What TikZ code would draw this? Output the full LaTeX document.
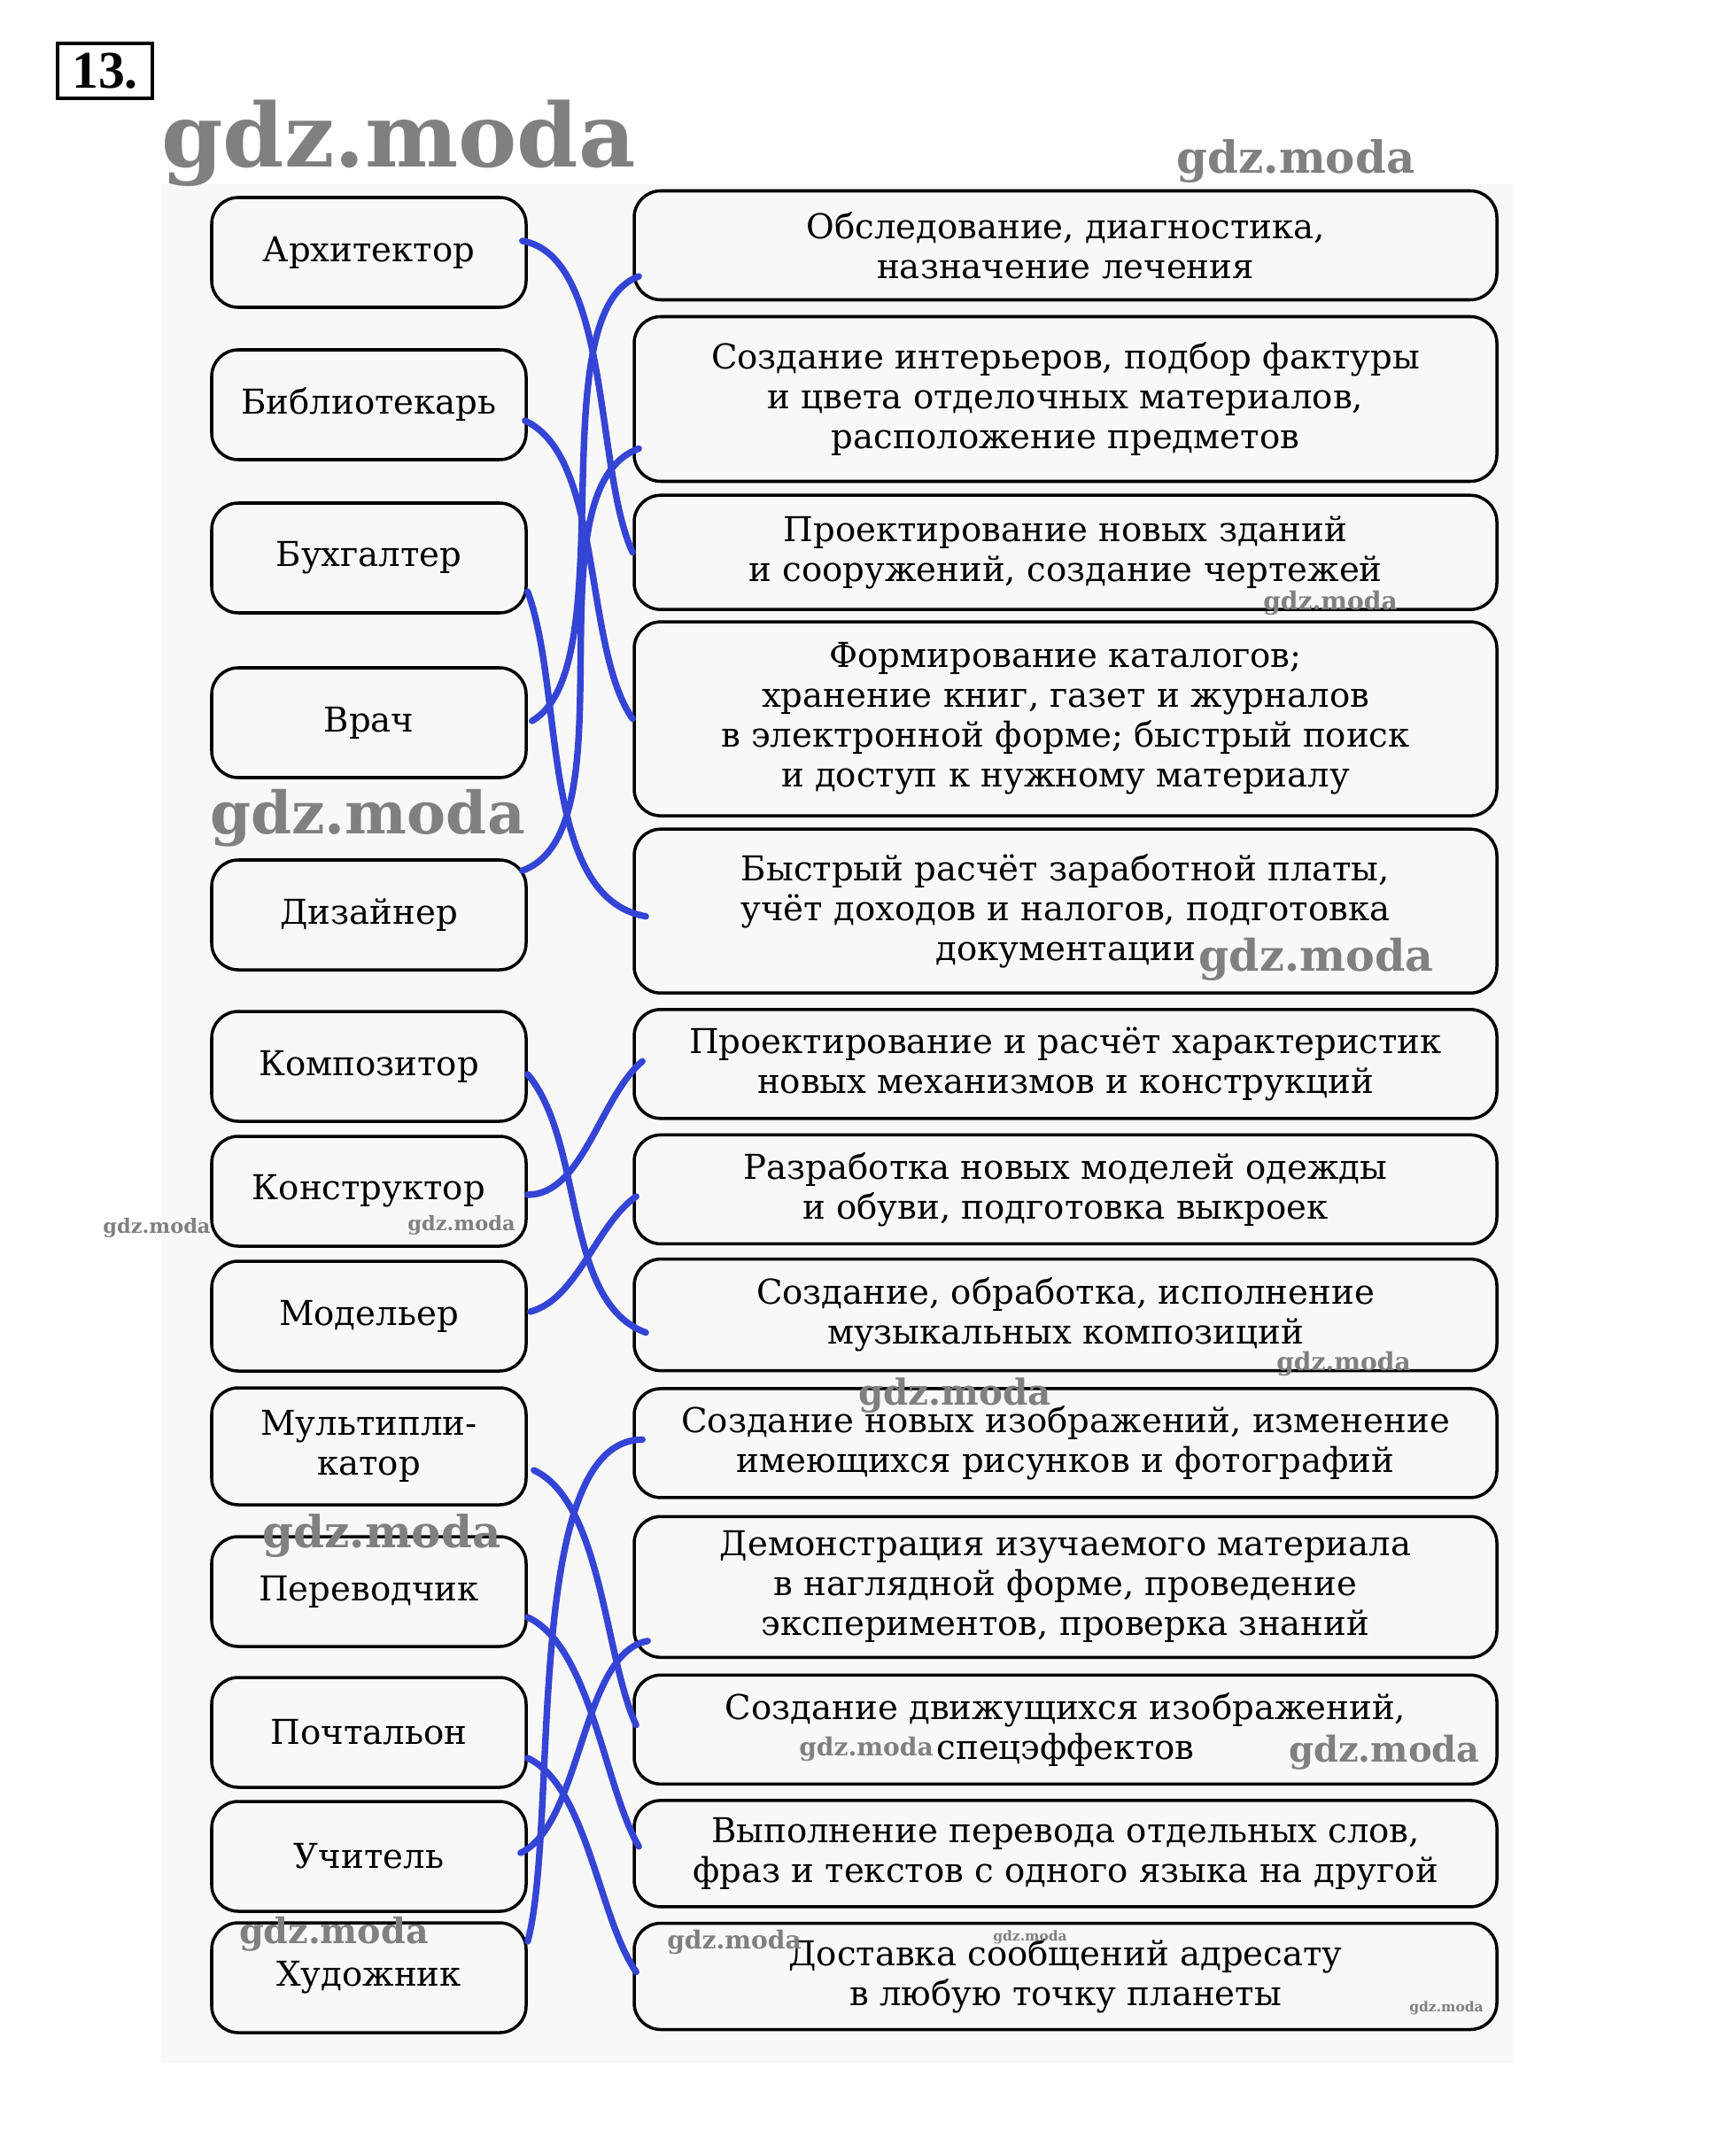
\documentclass[tikz,border=0pt]{standalone}
\usepackage{fontspec}
\setmainfont{DejaVu Serif}
\newfontfamily\numfont{Liberation Serif}
\definecolor{penblue}{RGB}{52,68,212}
\definecolor{paper}{RGB}{248,248,248}
\tikzset{
  job/.style  = { draw, line width=1pt, rounded corners=0.3cm, minimum width=3.55cm, minimum height=1.24cm, align=center, font=\fontsize{11}{12.8}\selectfont },
  task/.style = { draw, line width=1pt, rounded corners=0.3cm, minimum width=9.74cm, align=center, font=\fontsize{11}{12.8}\selectfont },
  link/.style = { line width=2.1pt, penblue, line cap=round },
  wm/.style   = { text=black!50, inner sep=0pt, font=\bfseries\fontsize{#1}{#1}\selectfont },
}

\begin{document}
\begin{tikzpicture}
    % page and grey scan area
    \useasboundingbox (0,0) rectangle (19.59,-24.14);
    \fill[white] (0,0) rectangle (19.59,-24.14);
    \fill[paper] (1.82,-2.08) rectangle (17.09,-23.29);

    % task number
    \node[draw, line width=1.2pt, minimum width=1.07cm, minimum height=0.62cm, inner sep=0pt, font=\numfont\bfseries\fontsize{17}{17}\selectfont] (num) at (1.185,-0.80) {13.};

    % professions
    \node[job] (arch)  at (4.165,-2.85)  {Архитектор};
    \node[job] (bibl)  at (4.165,-4.57)  {Библиотекарь};
    \node[job] (buh)   at (4.165,-6.30)  {Бухгалтер};
    \node[job] (vrach) at (4.165,-8.16)  {Врач};
    \node[job] (diz)   at (4.165,-10.33) {Дизайнер};
    \node[job] (komp)  at (4.165,-12.04) {Композитор};
    \node[job] (konst) at (4.165,-13.45) {Конструктор};
    \node[job] (model) at (4.165,-14.86) {Модельер};
    \node[job, minimum height=1.32cm] (mult) at (4.165,-16.33) {Мультипли-\\катор};
    \node[job] (perev) at (4.165,-17.97) {Переводчик};
    \node[job] (poch)  at (4.165,-19.56) {Почтальон};
    \node[job] (uchit) at (4.165,-20.96) {Учитель};
    \node[job] (hud)   at (4.165,-22.33) {Художник};

    % kinds of work
    \node[task, minimum height=1.23cm] (tobsl)  at (12.03,-2.77)   {Обследование, диагностика,\\назначение лечения};
    \node[task, minimum height=1.86cm] (tinter) at (12.03,-4.505)  {Создание интерьеров, подбор фактуры\\и цвета отделочных материалов,\\расположение предметов};
    \node[task, minimum height=1.29cm] (tzdan)  at (12.03,-6.237)  {Проектирование новых зданий\\и сооружений, создание чертежей};
    \node[task, minimum height=2.19cm] (tkatal) at (12.03,-8.116)  {Формирование каталогов;\\хранение книг, газет и журналов\\в электронной форме; быстрый поиск\\и доступ к нужному материалу};
    \node[task, minimum height=1.85cm] (trasch) at (12.03,-10.287) {Быстрый расчёт заработной платы,\\учёт доходов и налогов, подготовка\\документации};
    \node[task, minimum height=1.23cm] (tmeh)   at (12.03,-12.013) {Проектирование и расчёт характеристик\\новых механизмов и конструкций};
    \node[task, minimum height=1.23cm] (todezh) at (12.03,-13.429) {Разработка новых моделей одежды\\и обуви, подготовка выкроек};
    \node[task, minimum height=1.26cm] (tmuz)   at (12.03,-14.846) {Создание, обработка, исполнение\\музыкальных композиций};
    \node[task, minimum height=1.23cm] (tizobr) at (12.03,-16.294) {Создание новых изображений, изменение\\имеющихся рисунков и фотографий};
    \node[task, minimum height=1.59cm] (tdemo)  at (12.03,-17.918) {Демонстрация изучаемого материала\\в наглядной форме, проведение\\экспериментов, проверка знаний};
    \node[task, minimum height=1.23cm] (tanim)  at (12.03,-19.528) {Создание движущихся изображений,\\спецэффектов};
    \node[task, minimum height=1.20cm] (tperev) at (12.03,-20.929) {Выполнение перевода отдельных слов,\\фраз и текстов с одного языка на другой};
    \node[task, minimum height=1.20cm] (tdost)  at (12.03,-22.315) {Доставка сообщений адресату\\в любую точку планеты};

    % pen lines
    \draw[link] ([xshift=-0.06cm,yshift=0.13cm]arch.east) to[out=-10,in=115,looseness=0.7] (tzdan.west);
    \draw[link] ([xshift=-0.03cm,yshift=-0.18cm]bibl.east) to[out=-25,in=125,looseness=0.7] (tkatal.west);
    \draw[link] ([yshift=-0.38cm]buh.east) to[out=-70,in=170,looseness=0.8] ([xshift=0.15cm,yshift=-0.06cm]trasch.west);
    \draw[link] ([xshift=0.05cm,yshift=0.02cm]vrach.east) to[out=30,in=200,looseness=0.6] ([xshift=0.07cm,yshift=-0.35cm]tobsl.west);
    \draw[link] ([xshift=-0.06cm,yshift=0.50cm]diz.east) to[out=20,in=200,looseness=0.7] ([xshift=0.07cm,yshift=-0.56cm]tinter.west);

    \draw[link] ([yshift=-0.09cm]komp.east) to[out=-50,in=160,looseness=0.8] ([xshift=0.15cm,yshift=-0.20cm]tmuz.west);
    \draw[link] ([yshift=-0.04cm]konst.east) to[out=0,in=220,looseness=0.8] ([xshift=0.11cm,yshift=0.03cm]tmeh.west);
    \draw[link] ([xshift=0.03cm,yshift=0.05cm]model.east) to[out=15,in=215,looseness=0.8] ([xshift=0.04cm,yshift=-0.08cm]todezh.west);

    \draw[link] ([xshift=0.07cm,yshift=-0.27cm]mult.east) to[out=-25,in=115,looseness=0.7] ([xshift=0.04cm,yshift=0.05cm]tanim.west);
    \draw[link] ([yshift=-0.29cm]perev.east) to[out=-25,in=120,looseness=0.7] ([xshift=0.07cm,yshift=0.08cm]tperev.west);
    \draw[link] ([yshift=-0.29cm]poch.east) to[out=-25,in=125,looseness=0.7] ([xshift=0.04cm,yshift=0.05cm]tdost.west);
    \draw[link] ([xshift=-0.08cm,yshift=0.04cm]uchit.east) to[out=25,in=190,looseness=0.7] ([xshift=0.17cm,yshift=-0.61cm]tdemo.west);
    \draw[link] ([yshift=0.41cm]hud.east) to[out=75,in=180,looseness=0.6] ([xshift=0.11cm,yshift=0.04cm]tizobr.west);

    % watermarks
    \node[wm=28.3] (wm1)  at (4.50,-1.62)   {gdz.moda};
    \node[wm=14.2] (wm2)  at (14.63,-1.82)  {gdz.moda};
    \node[wm=8.0]  (wm3)  at (15.02,-6.81)  {gdz.moda};
    \node[wm=18.8] (wm4)  at (4.15,-9.24)   {gdz.moda};
    \node[wm=14.0] (wm5)  at (14.86,-10.83) {gdz.moda};
    \node[wm=6.4]  (wm6)  at (1.77,-13.86)  {gdz.moda};
    \node[wm=6.4]  (wm7)  at (5.21,-13.83)  {gdz.moda};
    \node[wm=8.0]  (wm8)  at (15.17,-15.40) {gdz.moda};
    \node[wm=11.5] (wm9)  at (10.78,-15.76) {gdz.moda};
    \node[wm=14.2] (wm10) at (4.31,-17.34)  {gdz.moda};
    \node[wm=8.0]  (wm11) at (9.78,-19.75)  {gdz.moda};
    \node[wm=11.4] (wm12) at (15.63,-19.79) {gdz.moda};
    \node[wm=11.3] (wm13) at (3.77,-21.84)  {gdz.moda};
    \node[wm=8.0]  (wm14) at (8.29,-21.93)  {gdz.moda};
    \node[wm=4.4]  (wm15) at (11.63,-21.87) {gdz.moda};
    \node[wm=4.4]  (wm16) at (16.33,-22.67) {gdz.moda};
\end{tikzpicture}
\end{document}
